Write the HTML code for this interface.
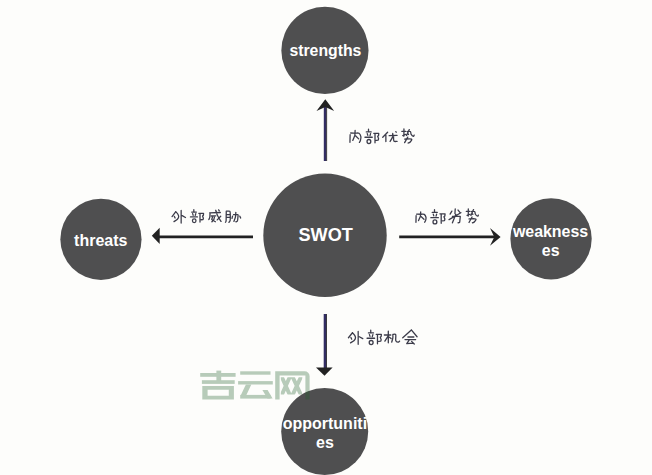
<!DOCTYPE html>
<html><head><meta charset="utf-8"><style>
html,body{margin:0;padding:0;background:#fdfdfb;}
svg{display:block;}
text{font-family:"Liberation Sans",sans-serif;font-weight:bold;fill:#ffffff;}
</style></head><body>
<svg width="652" height="475" viewBox="0 0 652 475">
<defs><clipPath id="xclip"><rect x="280.8" y="377.3" width="21.6" height="17.2"/></clipPath></defs>
<rect width="652" height="475" fill="#fdfdfb"/>
<circle cx="324.95" cy="50.4" r="43.6" fill="#4f4f50"/>
<circle cx="325" cy="235.3" r="61.7" fill="#4f4f50"/>
<circle cx="100.95" cy="239.3" r="40.6" fill="#4f4f50"/>
<circle cx="551.05" cy="238.8" r="40.65" fill="#4f4f50"/>
<circle cx="324.7" cy="431.5" r="43.5" fill="#4f4f50"/>

<rect x="323.8" y="107" width="2.4" height="54" fill="#322d62"/>
<rect x="326.2" y="107" width="0.9" height="54" fill="#26252c"/>
<rect x="323.7" y="314" width="2.4" height="54" fill="#322d62"/>
<rect x="326.1" y="314" width="0.9" height="54" fill="#26252c"/>
<g stroke-width="2.8" fill="none">
<line x1="399.2" y1="236.9" x2="495" y2="236.9" stroke="#222222"/>
<line x1="159" y1="236.8" x2="253" y2="236.8" stroke="#222222"/>
</g>
<g fill="#222222">
<polygon points="325.3,99.3 316.5,111 325.3,107 334.2,111"/>
<polygon points="500.6,236.9 490,228.1 494.3,236.9 490,245.7"/>
<polygon points="151.8,235.8 159.7,227.7 159.7,243.9"/>
<polygon points="316,367.5 332.6,367.5 324.5,375.8"/>
</g>


<text x="325.4" y="56.0" text-anchor="middle" font-size="15.8">strengths</text>
<text x="325.7" y="241.4" text-anchor="middle" font-size="18.1">SWOT</text>
<text x="100.8" y="246.2" text-anchor="middle" font-size="16">threats</text>
<text x="550.55" y="236.6" text-anchor="middle" font-size="15.95">weakness</text>
<text x="550.7" y="255.8" text-anchor="middle" font-size="15.95">es</text>
<text x="324.9" y="429" text-anchor="middle" font-size="16">opportuniti</text>
<text x="324.9" y="447.6" text-anchor="middle" font-size="16">es</text>

<g fill="none" stroke="#3c3c4a" stroke-width="1.3" stroke-linecap="round" stroke-linejoin="round">
<path d="M350.14 134.66L350.04 138.41L349.95 142.35M350.7 133.01C351.52 133.03 354.21 133.06 355.59 133.1C356.97 133.15 358.09 132.71 358.97 133.29C359.85 133.87 360.6 135.42 360.85 136.58C361.1 137.74 360.71 139.28 360.47 140.24C360.24 141.21 359.61 142 359.44 142.35M355.12 130.45L354.84 135.48L352.77 140.43M355.49 135.76L358.69 138.87M368.51 129.25L368.51 131.76M366.29 131.96L371.18 131.96M367.26 133.6L367.8 135.43M370.56 133.6L370.02 135.63M364.95 137.27L372.25 137.27M375.01 133.6L375.01 142.87M373.76 133.31L378.75 133.4L378.57 135.53L377.68 136.3L378.57 138.62L378.22 140.17L376.26 140.36M387.61 132.27L382.75 137.31M385.87 135.19L385.87 141.55M389.17 135.63L397.05 135.45M392.74 133.42C392.71 134.01 393 135.6 392.56 136.95C392.12 138.31 390.5 140.78 390.08 141.55M393.57 136.16C393.63 136.97 393.35 140.15 393.93 141.02C394.51 141.89 396.53 141.31 397.05 141.37M395.86 131.65L396.23 132.27M401.85 131.39L405.65 131.39M403.93 128.95L403.93 136.09L403.21 135.62M402.75 135.53L405.65 134.31M409.27 129.61L406.55 135.53M407.1 131.58C407.64 131.58 409.67 131.13 410.35 131.58C411.03 132.04 410.65 133.52 411.17 134.31C411.68 135.09 412.93 136.14 413.43 136.28C413.92 136.42 414.03 135.34 414.15 135.15M408.09 133.74L408.54 134.5M404.65 139.1C405.8 139.1 410.64 138.59 411.53 139.1C412.42 139.62 410.56 141.55 409.99 142.2C409.42 142.86 408.41 142.91 408.09 143.05M407.73 137.13L404.65 142.67M175.8 211.71L172.05 216.57M175.8 211.71C176.13 212.1 177.29 213.21 177.77 214.05C178.24 214.89 178.72 215.88 178.66 216.75C178.6 217.62 178.18 218.46 177.41 219.27C176.64 220.08 174.58 221.22 174.02 221.61M174.37 216.39L175.09 218.01M181.16 210.45L181.16 223.05M182.23 215.67L185.45 217.47M193.83 209.65L193.83 211.93M191.72 212.11L196.37 212.11M192.65 213.6L193.15 215.27M195.77 213.6L195.27 215.45M190.45 216.94L197.38 216.94M200 213.6L200 222.04M198.82 213.34L203.55 213.43L203.38 215.36L202.54 216.06L203.38 218.17L203.04 219.58L201.18 219.75M209.66 212.85L220.33 212.49M210.02 212.85C209.99 213.54 210.04 215.87 209.84 216.99C209.65 218.11 209.02 219.12 208.85 219.55M215.72 210.29C216.03 211.22 216.73 213.99 217.62 215.84C218.5 217.7 220.48 220.47 221.05 221.4M220.69 216.2L217.25 219.9M218.61 209.85L219.33 210.82M211.38 216.02L215.72 215.84M212.65 216.55L211.74 219.55L215.36 221.75M214.54 216.55L213.82 219.55L211.92 221.75M226.27 211.25C226.25 212.2 226.21 215.35 226.18 216.97C226.15 218.6 226.21 220.12 226.09 221C225.97 221.88 225.56 222.04 225.45 222.25M226.27 211.25C226.85 211.25 229.06 210.68 229.73 211.25C230.4 211.82 230.21 213.07 230.27 214.65C230.33 216.23 230.32 219.46 230.09 220.73C229.86 222 229.11 222 228.91 222.25M226.82 214.65L229.55 214.65M226.82 217.33L229.55 217.33M233.55 214.65C234.25 214.65 237.01 214.26 237.74 214.65C238.47 215.04 237.98 215.9 237.92 216.97C237.86 218.05 237.72 220.28 237.37 221.09C237.02 221.89 236.08 221.68 235.83 221.8M235.83 212.41C235.77 213.17 235.78 215.47 235.46 216.97C235.14 218.48 234.17 220.7 233.91 221.45M232.55 216.17L232 218.4M239.83 216.17L240.65 218.05M416.12 215.59L416.04 218.84L415.95 222.25M416.64 214.17C417.39 214.18 419.86 214.21 421.12 214.25C422.39 214.29 423.42 213.9 424.23 214.41C425.03 214.91 425.72 216.25 425.95 217.26C426.18 218.26 425.82 219.6 425.61 220.43C425.39 221.26 424.81 221.95 424.66 222.25M420.69 211.95L420.43 216.31L418.54 220.59M421.04 216.55L423.97 219.24M434.51 209.75L434.51 212.24M432.22 212.44L437.26 212.44M433.23 214.07L433.78 215.89M436.62 214.07L436.07 216.08M430.85 217.71L438.36 217.71M441.2 214.07L441.2 223.28M439.92 213.78L445.05 213.88L444.87 215.99L443.95 216.75L444.87 219.06L444.5 220.59L442.48 220.78M455.24 208.95L454.95 213.52M451.85 211.14L450.11 214.07M458.05 210.05L459.69 212.15M460.85 212.7L449.05 219.65M452.44 216.45L460.27 216.45L459.69 222.3L458.05 222.85M455.82 214.35L452.44 222.85M466.25 211.36L469.99 211.36M468.3 208.95L468.3 215.99L467.58 215.53M467.14 215.44L469.99 214.23M473.55 209.6L470.88 215.44M471.41 211.54C471.94 211.54 473.95 211.1 474.61 211.54C475.28 211.99 474.91 213.46 475.41 214.23C475.92 215 477.15 216.04 477.64 216.18C478.13 216.32 478.23 215.25 478.35 215.07M472.39 213.68L472.83 214.42M469.01 218.96C470.14 218.96 474.89 218.45 475.77 218.96C476.64 219.47 474.82 221.37 474.26 222.02C473.69 222.66 472.7 222.71 472.39 222.85M472.03 217.01L469.01 222.48M352.45 332.74L348.45 337.72M352.45 332.74C352.8 333.14 354.04 334.28 354.55 335.14C355.06 336 355.57 337.01 355.5 337.9C355.44 338.79 355 339.65 354.17 340.48C353.34 341.31 351.15 342.48 350.55 342.88M350.93 337.53L351.69 339.19M358.17 331.45L358.17 344.35M359.32 336.79L362.75 338.64M370.74 330.25L370.74 332.76M368.43 332.96L373.51 332.96M369.45 334.6L370 336.43M372.86 334.6L372.31 336.63M367.05 338.27L374.62 338.27M377.48 334.6L377.48 343.87M376.18 334.31L381.35 334.4L381.17 336.53L380.24 337.3L381.17 339.62L380.8 341.17L378.77 341.36M384.35 335.02L390.8 335.02M388.31 331.15L388.31 342.75M388.03 336.1L384.9 341.13M389.42 337.26L391.07 338.61M392.83 334.48C392.83 335.03 393.01 336.52 392.83 337.8C392.64 339.09 391.9 341.48 391.72 342.21M392.83 334.48C393.3 334.48 395.19 333.46 395.68 334.48C396.17 335.5 395.4 339.3 395.77 340.59C396.14 341.88 397.26 342.12 397.89 342.21C398.52 342.3 399.27 341.31 399.55 341.13M411.35 329.95L402.75 337.85M411.35 329.95L417.05 336.71M407.89 337L413.87 337M404.99 339.57L415.65 339.57M409.29 339.85L406.77 343.66L413.31 343.09M411.63 341.38L414.25 343.95"/>
<ellipse cx="368.91" cy="141.52" rx="1.87" ry="2.03"/>
<ellipse cx="194.21" cy="220.81" rx="1.77" ry="1.84"/>
<ellipse cx="434.93" cy="221.94" rx="1.92" ry="2.01"/>
<ellipse cx="371.16" cy="342.52" rx="1.94" ry="2.03"/>
</g>
<g opacity="0.31" fill="rgb(30,95,40)">
<rect x="200.2" y="373" width="35.4" height="3.8"/>
<rect x="216.4" y="370.6" width="4.8" height="10.5"/>
<rect x="201.9" y="380.2" width="32.8" height="3.7"/>
<path fill-rule="evenodd" d="M202.3 386H233.9V399.5H202.3Z M207.6 389.8V395.7H228.8V389.8Z"/>
<rect x="240.2" y="371.3" width="30.3" height="3.4"/>
<rect x="238.1" y="381.1" width="34.7" height="3.4"/>
<polygon points="245.9,384.4 251.3,384.4 246.4,395 240.9,395"/>
<rect x="240.2" y="394.9" width="30.4" height="3.7"/>
<polygon points="262.4,390 267.6,390 272.6,398.6 267.4,398.6 265.5,395.2"/>
<path d="M275.2 371.2H304.6A5 5 0 0 1 309.6 376.2V399.5H305.4V375.4H279.6V399.5H275.2Z"/>
<g stroke="rgb(30,95,40)" stroke-width="3.9" clip-path="url(#xclip)" fill="none">
<path d="M281.6 376.5L290 395.3M290 376.5L281.6 395.3M292.4 376.5L301.2 395.3M301.2 376.5L292.4 395.3"/>
</g>
</g>
</svg>
</body></html>
